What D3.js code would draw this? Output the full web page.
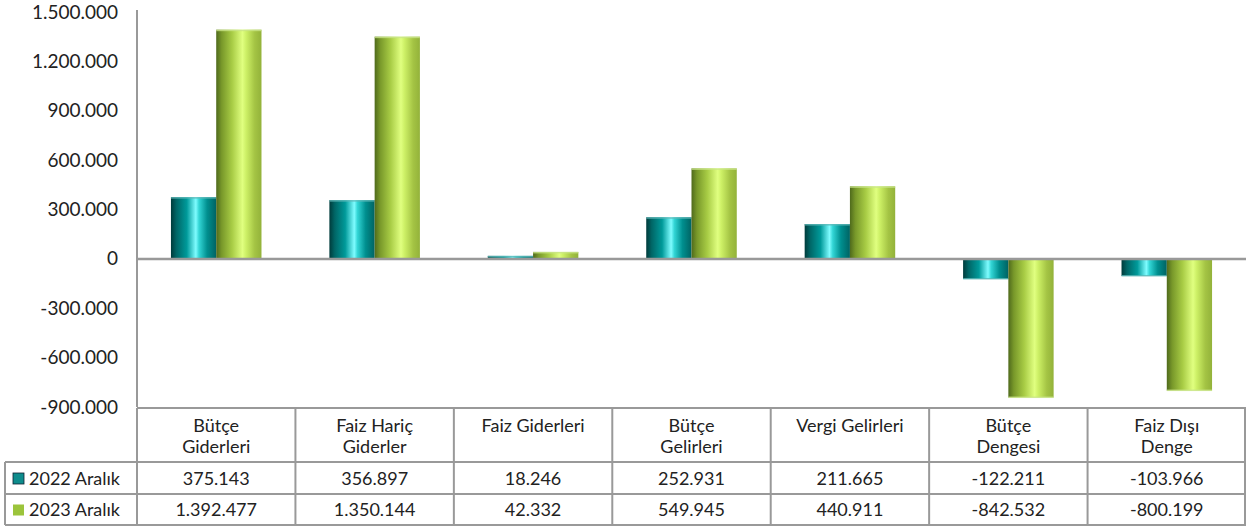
<!DOCTYPE html>
<html><head><meta charset="utf-8">
<script src="https://cdn.jsdelivr.net/npm/d3@7"></script>
<style>body{margin:0;background:#fff}svg{display:block}text{font-family:"Lato","DejaVu Sans",sans-serif;fill:#222}</style>
</head><body><svg id="c" width="1246" height="531"></svg>
<script>
const categories = [["Bütçe","Giderleri"],["Faiz Hariç","Giderler"],["Faiz Giderleri"],["Bütçe","Gelirleri"],["Vergi Gelirleri"],["Bütçe","Dengesi"],["Faiz Dışı","Denge"]];
const seriesNames = ["2022 Aralık","2023 Aralık"];
const values2022 = [375143,356897,18246,252931,211665,-122211,-103966];
const values2023 = [1392477,1350144,42332,549945,440911,-842532,-800199];
const yTicks = [-900000,-600000,-300000,0,300000,600000,900000,1200000,1500000];

const svg = d3.select("#c");
const L = 137, R = 1246, T = 12, B = 407;
const rowH = [54, 32, 31];
const tr = d3.formatLocale({decimal:",",thousands:".",grouping:[3],currency:["","₺"],minus:"-"});
const fmt = tr.format(",d");

const y = d3.scaleLinear().domain([-900000,1500000]).range([B,T]);
const keys = categories.map((c,i)=>i);
const x = d3.scaleBand().domain(keys).range([L,R]).padding(0);
const gw = x.bandwidth(), bw = gw/3.5;
const xs = d3.scaleBand().domain([0,1]).range([gw/2-bw, gw/2+bw]);

const defs = svg.append("defs");
function grad(id, stops){
  const g = defs.append("linearGradient").attr("id",id).attr("x1","0").attr("x2","1").attr("y1","0").attr("y2","0");
  stops.forEach(s=>g.append("stop").attr("offset",s[0]).attr("stop-color",s[1]));
}
grad("gTeal",[[0,"#003b3b"],[0.12,"#006666"],[0.35,"#009a9a"],[0.55,"#7ffcff"],[0.62,"#33d6d6"],[0.8,"#008f8f"],[1,"#006363"]]);
grad("gGreen",[[0,"#4f6a1c"],[0.12,"#78982a"],[0.35,"#a8cc45"],[0.58,"#e0ff80"],[0.66,"#cdf066"],[0.85,"#a4c444"],[1,"#93b23a"]]);
const fills = ["url(#gTeal)","url(#gGreen)"];
const legendFill = ["#0e8c8c","#9bc43b"];

// y axis
svg.append("line").attr("x1",L).attr("x2",L).attr("y1",10).attr("y2",B).attr("stroke","#999").attr("stroke-width",2);
const yAxis = d3.axisLeft(y).tickValues(yTicks).tickFormat(d=>fmt(d)).tickSize(0).tickPadding(19);
const ya = svg.append("g").attr("transform",`translate(${L},0)`).call(yAxis);
ya.select(".domain").remove();
ya.selectAll("text").attr("font-size",19).style("font-family","Lato, DejaVu Sans, sans-serif").attr("fill","#222");

// bars
const series = [values2022, values2023];
series.forEach((vals,si)=>{
  svg.append("g").selectAll("rect").data(vals).join("rect")
    .attr("x",(d,i)=>x(i)+xs(si))
    .attr("width",bw)
    .attr("y",d=>Math.min(y(d),y(0)))
    .attr("height",d=>Math.abs(y(d)-y(0)))
    .attr("fill",fills[si]);
  svg.append("g").selectAll("rect").data(vals).join("rect")
    .attr("x",(d,i)=>x(i)+xs(si))
    .attr("width",bw)
    .attr("y",d=>d>=0 ? y(d) : y(d)-1)
    .attr("height",1.5)
    .attr("fill",si===0?"#5fb8b8":"#c9e58a").attr("opacity",0.8);
});
// zero line
svg.append("line").attr("x1",L).attr("x2",R).attr("y1",y(0)).attr("y2",y(0)).attr("stroke","#999").attr("stroke-width",2.5);

// table
const tg = svg.append("g");
const stroke = "#999";
const yH0 = B+1, yH1 = yH0+rowH[0], yR1 = yH1+rowH[1], yR2 = yR1+rowH[2];
tg.append("line").attr("x1",L).attr("x2",R).attr("y1",yH0).attr("y2",yH0).attr("stroke",stroke).attr("stroke-width",2);
[yH1,yR1,yR2].forEach(yy=>tg.append("line").attr("x1",5).attr("x2",R).attr("y1",yy).attr("y2",yy).attr("stroke",stroke).attr("stroke-width",2));
keys.concat([keys.length]).forEach(i=>{
  const xx = i<keys.length ? x(i) : R-1;
  tg.append("line").attr("x1",xx).attr("x2",xx).attr("y1",yH0).attr("y2",yR2).attr("stroke",stroke).attr("stroke-width",2);
});
tg.append("line").attr("x1",5).attr("x2",5).attr("y1",yH1).attr("y2",yR2).attr("stroke",stroke).attr("stroke-width",2);

categories.forEach((lines,i)=>{
  const t = tg.append("text").attr("x",x(i)+gw/2).attr("y",yH0+24).attr("text-anchor","middle").attr("font-size",18);
  lines.forEach((ln,k)=>t.append("tspan").attr("x",x(i)+gw/2).attr("dy",k?21:0).text(ln));
});
[[yH1,yR1],[yR1,yR2]].forEach((r,si)=>{
  series[si].forEach((v,i)=>{
    tg.append("text").attr("x",x(i)+gw/2).attr("y",(r[0]+r[1])/2+6.5).attr("text-anchor","middle").attr("font-size",18).text(fmt(v));
  });
  tg.append("rect").attr("x",13).attr("y",(r[0]+r[1])/2-5).attr("width",11).attr("height",11)
    .attr("fill",legendFill[si]).attr("stroke",si===0?"#123":"none").attr("stroke-width",0.8);
  tg.append("text").attr("x",29).attr("y",(r[0]+r[1])/2+6.5).attr("font-size",18).text(seriesNames[si]);
});
</script></body></html>
